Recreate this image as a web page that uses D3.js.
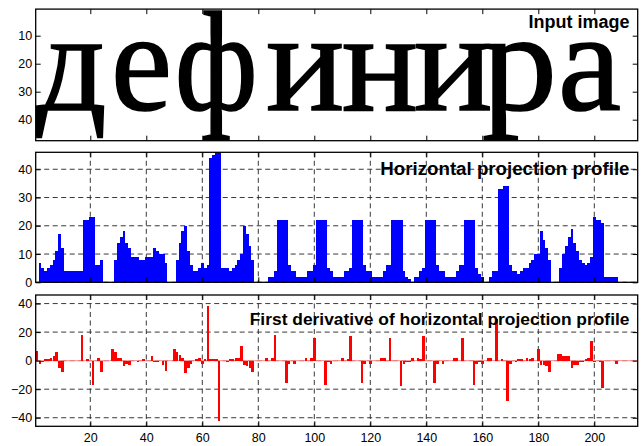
<!DOCTYPE html>
<html>
<head>
<meta charset="utf-8">
<script src="https://cdn.jsdelivr.net/npm/d3@7"></script>
<style>
  body { margin: 0; background: #fff; }
  svg { display: block; }
</style>
</head>
<body>
<script>
const width = 643;
const height = 446;

const word = 'дефинира';
const imageRows = 47;
const titles = [
  'Input image',
  'Horizontal projection profile',
  'First derivative of horizontal projection profile',
];

// column sums of black pixels, one per image column (1..215)
const profile = [
  0, 7, 5, 4, 5, 6, 8, 11, 17, 12,
  4, 4, 4, 4, 4, 4, 4, 22, 22, 23,
  23, 6, 6, 8, 0, 0, 0, 0, 8, 14,
  16, 18, 14, 12, 9, 9, 9, 8, 8, 9,
  9, 9, 12, 11, 10, 10, 7, 0, 0, 0,
  8, 14, 18, 20, 11, 6, 4, 4, 5, 7,
  5, 6, 44, 45, 46, 47, 5, 5, 5, 4,
  5, 6, 8, 10, 20, 17, 13, 8, 0, 0,
  0, 0, 0, 2, 2, 4, 22, 22, 22, 22,
  6, 4, 4, 2, 2, 2, 2, 4, 4, 6,
  22, 22, 22, 22, 5, 4, 2, 2, 2, 2,
  4, 4, 5, 22, 22, 22, 22, 6, 4, 4,
  2, 2, 2, 2, 4, 6, 6, 22, 22, 22,
  22, 4, 2, 1, 0, 2, 2, 4, 5, 22,
  22, 22, 22, 6, 4, 4, 2, 2, 2, 2,
  4, 6, 6, 22, 22, 22, 22, 5, 3, 2,
  0, 0, 2, 4, 4, 33, 33, 34, 34, 6,
  4, 4, 3, 4, 5, 5, 7, 8, 10, 10,
  18, 15, 12, 8, 0, 0, 0, 5, 10, 13,
  16, 19, 14, 11, 8, 7, 6, 7, 9, 23,
  22, 22, 21, 2, 2, 2, 2, 2, 0, 0,
  0, 0, 0, 0, 0,
];

// first derivative, one per column 1..214
const derivative = [
  7, -2, -1, 1, 1, 2, 3, 6, -5, -8,
  0, 0, 0, 0, 0, 0, 18, 0, 1, 0,
  -17, 0, 2, -8, 0, 0, 0, 8, 6, 2,
  2, -4, -2, -3, 0, 0, -1, 0, 1, 0,
  0, 3, -1, -1, 0, -3, -7, 0, 0, 8,
  6, 4, 2, -9, -5, -2, 0, 1, 2, -2,
  1, 38, 1, 1, 1, -42, 0, 0, -1, 1,
  1, 2, 2, 10, -3, -4, -5, -8, 0, 0,
  0, 0, 2, 0, 2, 18, 0, 0, 0, -16,
  -2, 0, -2, 0, 0, 0, 2, 0, 2, 16,
  0, 0, 0, -17, -1, -2, 0, 0, 0, 2,
  0, 1, 17, 0, 0, 0, -16, -2, 0, -2,
  0, 0, 0, 2, 2, 0, 16, 0, 0, 0,
  -18, -2, -1, -1, 2, 0, 2, 1, 17, 0,
  0, 0, -16, -2, 0, -2, 0, 0, 0, 2,
  2, 0, 16, 0, 0, 0, -17, -2, -1, -2,
  0, 2, 2, 0, 29, 0, 1, 0, -28, -2,
  0, -1, 1, 1, 0, 2, 1, 2, 0, 8,
  -3, -3, -4, -8, 0, 0, 5, 5, 3, 3,
  3, -5, -3, -3, -1, -1, 1, 2, 14, -1,
  0, -1, -19, 0, 0, 0, 0, -2, 0, 0,
  0, 0, 0, 0,
];

const xTicks = [20, 40, 60, 80, 100, 120, 140, 160, 180, 200];
const imageTicks = [10, 20, 30, 40];
const profileTicks = [0, 10, 20, 30, 40];
const derivativeTicks = [-40, -20, 0, 20, 40];

// layout
const left = 35.7;
const right = 637.7;
const panels = [
  { top: 9.1, bottom: 140.7, titleY: 28.3, titleSize: 18 },
  { top: 152.3, bottom: 282.3, titleY: 175, titleSize: 18.7 },
  { top: 295, bottom: 426.3, titleY: 325, titleSize: 17.4 },
];
// span of each letter of the word, in image columns [start, end]
const letterSpans = [
  [0.5, 25.8], [27.4, 49.2], [50.2, 79.8], [82.8, 110.8],
  [109.8, 137.1], [135.6, 163.7], [159.9, 186.7], [187.0, 209.5],
];

const x = d3.scaleLinear([0.5, profile.length + 0.5], [left, right]);
const yImage = d3.scaleLinear([0.5, imageRows + 0.5], [panels[0].top, panels[0].bottom]);
const yProfile = d3.scaleLinear([0, 46], [panels[1].bottom, panels[1].top]);
const yDerivative = d3.scaleLinear([-46, 46], [panels[2].bottom, panels[2].top]);
const step = x(1) - x(0);

const svg = d3.select('body')
  .append('svg')
  .attr('width', width)
  .attr('height', height)
  .attr('viewBox', [0, 0, width, height])
  .style('font-family', 'Arial, "Liberation Sans", Helvetica, sans-serif');

const defs = svg.append('defs');
panels.forEach((p, i) => {
  defs.append('clipPath')
    .attr('id', `clip${i}`)
    .append('rect')
    .attr('x', left)
    .attr('y', p.top)
    .attr('width', right - left)
    .attr('height', p.bottom - p.top);
});

// grid lines for the two bar panels
function grid(panel, yScale, yTicks) {
  const g = svg.append('g')
    .attr('stroke', '#222')
    .attr('stroke-width', 0.9)
    .attr('stroke-dasharray', '5,3.5');
  g.selectAll('.gx')
    .data(xTicks)
    .join('line')
      .attr('x1', d => x(d))
      .attr('x2', d => x(d))
      .attr('y1', panel.top)
      .attr('y2', panel.bottom);
  g.selectAll('.gy')
    .data(yTicks)
    .join('line')
      .attr('x1', left)
      .attr('x2', right)
      .attr('y1', d => yScale(d))
      .attr('y2', d => yScale(d));
}

grid(panels[1], yProfile, profileTicks);
grid(panels[2], yDerivative, derivativeTicks);

// input image: the word itself, one tspan per letter
const fontSize = yImage(51) - yImage(0);
svg.append('g')
  .attr('clip-path', 'url(#clip0)')
  .append('text')
    .attr('y', yImage(36.7))
    .attr('fill', '#000')
    .attr('stroke', '#000')
    .attr('stroke-width', 1.6)
    .style('font-family', '"Liberation Serif", "Times New Roman", serif')
    .style('font-size', `${fontSize}px`)
  .selectAll('tspan')
  .data(Array.from(word))
  .join('tspan')
    .attr('x', (d, i) => x(letterSpans[i][0]))
    .attr('textLength', (d, i) => x(letterSpans[i][1]) - x(letterSpans[i][0]))
    .attr('lengthAdjust', 'spacingAndGlyphs')
    .text(d => d);

// horizontal projection profile
svg.append('g')
  .attr('clip-path', 'url(#clip1)')
  .attr('fill', '#0000ff')
  .attr('shape-rendering', 'crispEdges')
  .selectAll('rect')
  .data(profile)
  .join('rect')
    .attr('x', (d, i) => x(i + 0.5))
    .attr('width', step)
    .attr('y', d => yProfile(d))
    .attr('height', d => yProfile(0) - yProfile(d));

// derivative
svg.append('line')
  .attr('x1', left)
  .attr('x2', right)
  .attr('y1', yDerivative(0))
  .attr('y2', yDerivative(0))
  .attr('stroke', '#ff8c8c')
  .attr('stroke-width', 1);

svg.append('g')
  .attr('clip-path', 'url(#clip2)')
  .attr('fill', '#ff0000')
  .attr('shape-rendering', 'crispEdges')
  .selectAll('rect')
  .data(derivative)
  .join('rect')
    .attr('x', (d, i) => x(i + 1 - 0.48))
    .attr('width', step * 0.96)
    .attr('y', d => yDerivative(Math.max(0, d)))
    .attr('height', d => Math.abs(yDerivative(0) - yDerivative(d)));

// axes with inward ticks on all four sides
const yScales = [yImage, yProfile, yDerivative];
const yTickSets = [imageTicks, profileTicks, derivativeTicks];

panels.forEach((p, i) => {
  const g = svg.append('g').attr('class', 'axes');

  g.append('g')
    .attr('transform', `translate(${left},0)`)
    .call(d3.axisLeft(yScales[i]).tickValues(yTickSets[i]).tickSizeInner(-5).tickSizeOuter(0).tickPadding(3.5));
  g.append('g')
    .attr('transform', `translate(${right},0)`)
    .call(d3.axisRight(yScales[i]).tickValues(yTickSets[i]).tickSizeInner(-5).tickSizeOuter(0).tickFormat(''));
  g.append('g')
    .attr('transform', `translate(0,${p.top})`)
    .call(d3.axisTop(x).tickValues(xTicks).tickSizeInner(-5).tickSizeOuter(0).tickFormat(''));
  g.append('g')
    .attr('transform', `translate(0,${p.bottom})`)
    .call(d3.axisBottom(x).tickValues(xTicks).tickSizeInner(-5).tickSizeOuter(0).tickPadding(6.5)
      .tickFormat(i === 2 ? d3.format('d') : ''));

  g.selectAll('.domain').remove();
  g.selectAll('.tick line').attr('stroke', '#000').attr('stroke-width', 1);
  g.selectAll('.tick text')
    .attr('fill', '#000')
    .style('font-family', 'Arial, "Liberation Sans", Helvetica, sans-serif')
    .style('font-size', '12.5px');

  g.append('rect')
    .attr('x', left)
    .attr('y', p.top)
    .attr('width', right - left)
    .attr('height', p.bottom - p.top)
    .attr('fill', 'none')
    .attr('stroke', '#000')
    .attr('stroke-width', 1.3);

  g.append('text')
    .attr('x', 629.5)
    .attr('y', p.titleY)
    .attr('text-anchor', 'end')
    .attr('fill', '#000')
    .style('font-weight', 'bold')
    .style('font-size', `${p.titleSize}px`)
    .text(titles[i]);
});
</script>
</body>
</html>
